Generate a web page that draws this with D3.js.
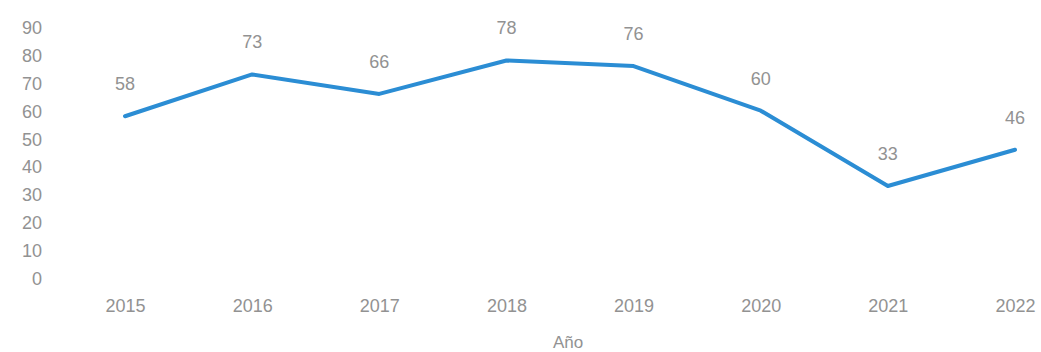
<!DOCTYPE html>
<html><head><meta charset="utf-8">
<script src="https://cdn.jsdelivr.net/npm/d3@7"></script>
<style>
html,body{margin:0;padding:0;background:#fff;}
svg text{font-family:"Liberation Sans",Arial,sans-serif;fill:#929292;}
</style></head>
<body>
<svg id="chart" width="1041" height="352"></svg>
<script>
const years = ["2015","2016","2017","2018","2019","2020","2021","2022"];
const values = [58, 73, 66, 78, 76, 60, 33, 46];
const yTicks = [0,10,20,30,40,50,60,70,80,90];
const xTitle = "Año";

const svg = d3.select("#chart");
const x = d3.scalePoint().domain(years).range([125, 1015]);
const y = d3.scaleLinear().domain([0, 90]).range([278, 27]);

// y axis labels
const yAxis = svg.append("g").attr("transform","translate(42,0)")
  .call(d3.axisLeft(y).tickValues(yTicks).tickSize(0).tickPadding(0));
yAxis.select(".domain").remove();
yAxis.selectAll("text").style("font-size","18px").attr("dy","0.36em");

// x axis labels
const xAxis = svg.append("g").attr("transform","translate(0,299)")
  .call(d3.axisBottom(x).tickSize(0).tickPadding(0));
xAxis.select(".domain").remove();
xAxis.selectAll("text").style("font-size","18px").attr("dy","0.71em");

svg.append("text").attr("x", 568).attr("y", 348).attr("text-anchor","middle")
  .style("font-size","17px").text(xTitle);

const line = d3.line().x((d,i)=>x(years[i])).y(d=>y(d));
svg.append("path").datum(values).attr("d", line)
  .attr("fill","none").attr("stroke","#2b8dd4").attr("stroke-width",4)
  .attr("stroke-linejoin","round").attr("stroke-linecap","round");

svg.selectAll(".vl").data(values).enter().append("text")
  .attr("class","vl").attr("x",(d,i)=>x(years[i])).attr("y",d=>y(d)-26)
  .attr("text-anchor","middle").style("font-size","18px").text(d=>d);
</script>
</body></html>
